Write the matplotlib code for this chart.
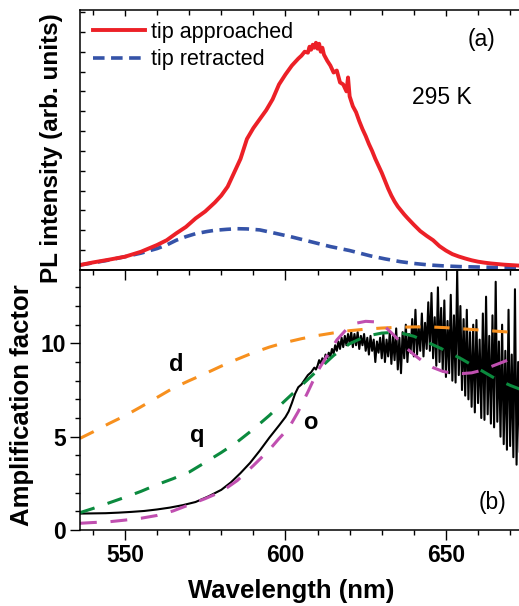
import numpy as np
import matplotlib.pyplot as plt
from matplotlib.ticker import MultipleLocator, NullFormatter

plt.rcParams['font.family'] = ['Liberation Sans', 'DejaVu Sans']

# PL spectra (arb. units)
wl_on = [536, 540, 545, 550, 555, 560, 563, 566, 569, 572, 575, 578, 580, 582, 584,
         586, 588, 590, 592, 594, 596, 598, 600, 602, 604, 605, 606, 607, 607.5, 608,
         608.5, 609, 609.5, 610, 610.5, 611, 611.5, 612, 613, 614, 615, 616, 617, 618,
         619, 619.5, 620, 621, 622, 623, 624, 625, 626, 627, 628, 629, 630, 631, 632,
         633, 634, 635, 636, 637, 638, 639, 640, 642, 644, 646, 648, 650, 652, 654,
         656, 658, 660, 662, 664, 668, 673]
pl_on = [0.25, 0.38, 0.52, 0.67, 0.92, 1.26, 1.5, 1.85, 2.17, 2.6, 2.95, 3.4, 3.75, 4.2, 4.9,
         5.6, 6.6, 7.15, 7.6, 8.05, 8.6, 9.35, 9.85, 10.3, 10.65, 10.8, 11.0, 10.95, 11.25, 11.1,
         11.35, 11.2, 11.45, 11.15, 11.4, 11.0, 11.2, 10.85, 10.55, 10.3, 9.95, 10.05, 9.45, 9.35,
         9.0, 9.7, 8.75, 8.25, 7.95, 7.5, 7.1, 6.75, 6.35, 6.0, 5.6, 5.25, 4.9, 4.5, 4.1,
         3.75, 3.45, 3.2, 3.0, 2.8, 2.62, 2.45, 2.28, 1.96, 1.72, 1.5, 1.2, 0.98, 0.8, 0.68,
         0.58, 0.49, 0.42, 0.37, 0.33, 0.27, 0.22]

wl_off = [536, 540, 545, 550, 555, 560, 563, 566, 569, 572, 575.6, 578, 581.8, 585, 588,
          592, 596, 601.6, 607.8, 614, 620, 626.5, 631, 635.8, 640, 645, 650, 654.5, 660,
          665, 673]
pl_off = [0.25, 0.36, 0.5, 0.67, 0.85, 1.08, 1.26, 1.5, 1.68, 1.83, 1.94, 2.0, 2.05, 2.08,
          2.07, 2.02, 1.88, 1.68, 1.43, 1.18, 0.98, 0.71, 0.56, 0.42, 0.33, 0.25, 0.2, 0.17,
          0.15, 0.13, 0.12]

# measured amplification factor
wl_meas = [536, 540, 544, 548, 552, 556, 560, 564, 568, 572, 576, 580, 583, 586, 589, 592,
           595, 598, 600, 601, 602, 603, 604, 605, 606, 607, 608, 609, 609.5,
           610, 610.5, 611, 611.5, 612, 612.5, 613, 613.5, 614, 614.5, 615, 615.5, 616,
           616.5, 617, 617.5, 618, 618.5, 619, 619.5, 620, 620.5, 621, 621.5, 622, 622.5,
           623, 623.5, 624, 624.5, 625, 625.5, 626, 626.5, 627, 627.5, 628, 628.5, 629,
           629.5, 630, 630.5, 631, 631.5, 632, 632.5, 633, 633.5, 634, 634.5, 635, 635.5,
           636, 636.5, 637, 637.5, 638, 638.5, 639, 639.5, 640, 640.5, 641, 641.5, 642,
           642.5, 643, 643.5, 644, 644.5, 645, 645.5, 646, 646.5, 647, 647.5, 648, 648.5,
           649, 649.5, 650, 650.5, 651, 651.5, 652, 652.5, 653, 653.5, 654, 654.5, 655,
           655.5, 656, 656.5, 657, 657.5, 658, 658.5, 659, 659.5, 660, 660.5, 661, 661.5,
           662, 662.5, 663, 663.5, 664, 664.5, 665, 665.5, 666, 666.5, 667, 667.5, 668,
           668.5, 669, 669.5, 670, 670.5, 671, 671.5, 672, 672.5, 673]
amp_meas = [0.88, 0.89, 0.9, 0.93, 0.97, 1.02, 1.1, 1.2, 1.33, 1.5, 1.8, 2.15, 2.55, 3.05,
            3.6, 4.25, 4.95, 5.6, 6.05, 6.35, 6.8, 7.3, 7.65, 7.8, 8.05, 8.3, 8.45, 8.7, 8.6,
            8.8, 9.1, 8.9, 9.2, 9.0, 9.4, 9.2, 9.5, 9.3, 9.7, 9.45, 9.9, 9.6,
            10.1, 9.7, 10.3, 9.8, 10.4, 9.9, 10.5, 10.0, 10.6, 9.8, 10.5, 9.9, 10.6,
            9.7, 10.4, 9.9, 10.5, 9.6, 10.3, 9.4, 10.4, 9.6, 10.2, 9.0, 10.1, 9.5,
            10.3, 9.2, 10.5, 9.0, 10.2, 9.3, 10.6, 8.9, 10.4, 9.1, 10.8, 8.6, 10.3,
            8.4, 10.6, 9.2, 11.0, 9.0, 10.5, 9.5, 11.3, 9.3, 11.8, 9.4, 10.9, 9.6,
            11.6, 9.3, 11.1, 9.7, 12.2, 9.6, 12.7, 9.2, 11.4, 8.8, 13.0, 9.0, 11.9,
            8.5, 12.3, 8.2, 11.2, 8.4, 12.6, 8.0, 11.5, 7.9, 13.9, 8.3, 12.0, 7.5,
            11.3, 7.2, 11.8, 7.0, 10.6, 6.6, 11.0, 6.3, 11.25, 6.8, 10.2, 6.0, 11.6,
            5.9, 12.5, 6.2, 10.4, 5.7, 11.5, 5.5, 13.3, 5.8, 10.1, 5.0, 11.0, 4.6,
            9.6, 4.3, 11.8, 4.5, 9.4, 3.9, 12.9, 3.5, 9.0, 4.2]

# calculated factors: dipole (d), quadrupole (q), octupole (o)
wl_d = [536, 540, 545, 550, 555, 560, 565, 570, 575, 580, 585, 590, 595, 600, 605, 610,
        615, 620, 625, 630, 635, 640, 645, 650, 655, 660, 665, 670, 673]
amp_d = [4.91, 5.25, 5.7, 6.12, 6.6, 7.1, 7.6, 8.0, 8.38, 8.78, 9.15, 9.5, 9.8, 10.05,
         10.25, 10.42, 10.56, 10.68, 10.76, 10.82, 10.86, 10.88, 10.88, 10.84, 10.78,
         10.72, 10.66, 10.6, 10.56]
wl_q = wl_d
amp_q = [0.93, 1.15, 1.45, 1.75, 2.07, 2.43, 2.75, 3.1, 3.62, 4.15, 4.72, 5.4, 6.14, 6.95,
         7.75, 8.55, 9.35, 9.98, 10.38, 10.55, 10.6, 10.38, 10.0, 9.6, 9.15, 8.65, 8.15,
         7.75, 7.55]
wl_o = [536, 540, 545, 550, 555, 560, 565, 570, 575, 580, 585, 590, 595, 598, 601, 604,
        607, 610, 613, 616, 619, 622, 625, 628, 631, 634, 637, 640, 643, 646, 649, 652,
        655, 658, 661, 664, 667, 670, 673]
amp_o = [0.36, 0.4, 0.44, 0.53, 0.63, 0.78, 1.02, 1.35, 1.68, 2.05, 2.65, 3.45, 4.3, 4.9,
         5.45, 6.35, 7.4, 8.5, 9.35, 10.18, 10.75, 11.08, 11.18, 11.15, 10.9, 10.4, 9.85,
         9.4, 9.0, 8.7, 8.5, 8.4, 8.38, 8.42, 8.55, 8.75, 8.95, 9.15, 9.35]

W, H = 519, 606
fig = plt.figure(figsize=(W / 100, H / 100), dpi=100)
ax1 = fig.add_axes([80 / W, 1 - 270 / H, 439 / W, 260 / H])
ax2 = fig.add_axes([80 / W, 1 - 530 / H, 439 / W, 260 / H], sharex=ax1)

# upper panel: PL spectra
ax1.plot(wl_off, pl_off, color='#3553a8', lw=2.6, dashes=(3.2, 1.8),
         label='tip retracted')
ax1.plot(wl_on, pl_on, color='#ec2027', lw=2.8, label='tip approached')
ax1.set_ylim(0, 13.1)
ax1.set_xlim(536, 536 + 439 / 3.21)

h, l = ax1.get_legend_handles_labels()
ax1.legend(h[::-1], l[::-1], loc='upper left', bbox_to_anchor=(93 / W, 1 - 22 / H),
           bbox_transform=fig.transFigure, frameon=False, fontsize=15.5,
           borderpad=0, borderaxespad=0, handlelength=2.4, handletextpad=0.3,
           labelspacing=0.3)
ax1.text(0.915, 0.885, '(a)', transform=ax1.transAxes, ha='center', va='center',
         fontsize=16.5)
ax1.text(0.825, 0.662, '295 K', transform=ax1.transAxes, ha='center', va='center',
         fontsize=16.5)

ax1.yaxis.set_major_locator(MultipleLocator(1))
ax1.yaxis.set_major_formatter(NullFormatter())
ax1.xaxis.set_major_locator(MultipleLocator(50))
ax1.xaxis.set_minor_locator(MultipleLocator(10))
ax1.tick_params(axis='y', direction='in', length=3.6, width=1.0, left=True, right=False)
ax1.tick_params(axis='x', which='both', direction='in', top=True, bottom=False,
                labelbottom=False, width=1.0)
ax1.tick_params(axis='x', which='major', length=4.5)
ax1.tick_params(axis='x', which='minor', length=3.6)
ax1.set_ylabel('PL intensity (arb. units)', fontsize=17.5, fontweight='bold')
ax1.yaxis.set_label_coords(-0.039, 0.47)

# lower panel: amplification factor
ax2.plot(wl_meas, amp_meas, color='black', lw=1.5)
ax2.plot(wl_d, amp_d, color='#f7901e', lw=2.2, dashes=(5, 4.5))
ax2.plot(wl_q, amp_q, color='#0b8a3e', lw=2.2, dashes=(5, 4.5))
ax2.plot(wl_o, amp_o, color='#c04fb0', lw=2.2, dashes=(5.5, 4.5))
ax2.set_ylim(0, 13.93)

ax2.text(565.9, 8.53, 'd', fontsize=17, fontweight='bold', ha='center', va='baseline')
ax2.text(572.6, 4.73, 'q', fontsize=17, fontweight='bold', ha='center', va='baseline')
ax2.text(607.9, 5.41, 'o', fontsize=17, fontweight='bold', ha='center', va='baseline')
ax2.text(0.94, 0.105, '(b)', transform=ax2.transAxes, ha='center', va='center',
         fontsize=16.5)

ax2.yaxis.set_major_locator(MultipleLocator(5))
ax2.yaxis.set_minor_locator(MultipleLocator(1))
ax2.tick_params(axis='both', which='both', direction='out', width=1.0,
                labelsize=16.5, pad=3)
ax2.tick_params(axis='both', which='major', length=7)
ax2.tick_params(axis='both', which='minor', length=3.6)
for lab in ax2.get_xticklabels() + ax2.get_yticklabels():
    lab.set_fontweight('bold')

sec = ax2.secondary_xaxis('top')
sec.xaxis.set_major_locator(MultipleLocator(50))
sec.xaxis.set_minor_locator(MultipleLocator(10))
sec.tick_params(axis='x', which='both', direction='in', labeltop=False, width=1.0)
sec.tick_params(axis='x', which='major', length=7)
sec.tick_params(axis='x', which='minor', length=3.6)
sec.spines['top'].set_linewidth(1.1)

ax2.set_xlabel('Wavelength (nm)', fontsize=18.5, fontweight='bold')
ax2.xaxis.set_label_coords(0.48, -0.19)
ax2.set_ylabel('Amplification factor', fontsize=18.5, fontweight='bold')
ax2.yaxis.set_label_coords(-0.104, 0.48)

for ax in (ax1, ax2):
    ax.spines['right'].set_visible(False)
    for s in ('left', 'top', 'bottom'):
        ax.spines[s].set_linewidth(1.1)

fig.savefig('out.png', dpi=100)
